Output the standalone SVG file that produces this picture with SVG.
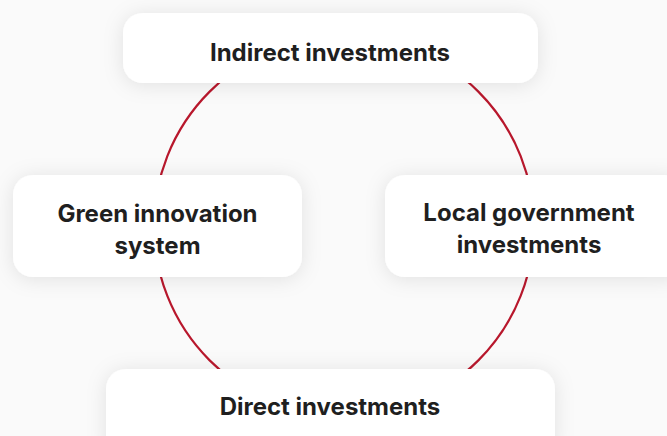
<svg xmlns="http://www.w3.org/2000/svg" width="667" height="436" viewBox="0 0 667 436">
<defs>
<filter id="sh" x="-20%" y="-40%" width="140%" height="180%">
<feDropShadow dx="0" dy="2" stdDeviation="10" flood-color="#000" flood-opacity="0.10"/>
</filter>
<style>
.box{fill:#fff;filter:url(#sh)}
.t{font-family:Inter,"Liberation Sans",sans-serif;font-weight:700;font-size:24px;fill:#1f1f1f;text-anchor:middle}
.c{fill:none;stroke:#b8172c;stroke-width:2.2}
</style>
</defs>
<rect width="667" height="436" fill="#fafafa"/>
<g id="connectors">
<circle class="c" cx="344" cy="226" r="190"/>
</g>
<g id="indirect">
<rect class="box" x="123" y="13" width="415" height="70" rx="20"/>
<text class="t" x="330" y="61">Indirect investments</text>
</g>
<g id="green">
<rect class="box" x="13" y="175" width="289" height="102" rx="20"/>
<text class="t" x="157.5" y="222">Green innovation</text>
<text class="t" x="157.5" y="254">system</text>
</g>
<g id="local">
<rect class="box" x="385" y="175" width="300" height="102" rx="20"/>
<text class="t" x="529" y="221">Local government</text>
<text class="t" x="529" y="253">investments</text>
</g>
<g id="direct">
<rect class="box" x="106" y="369" width="449" height="90" rx="20"/>
<text class="t" x="330" y="415">Direct investments</text>
</g>
</svg>
